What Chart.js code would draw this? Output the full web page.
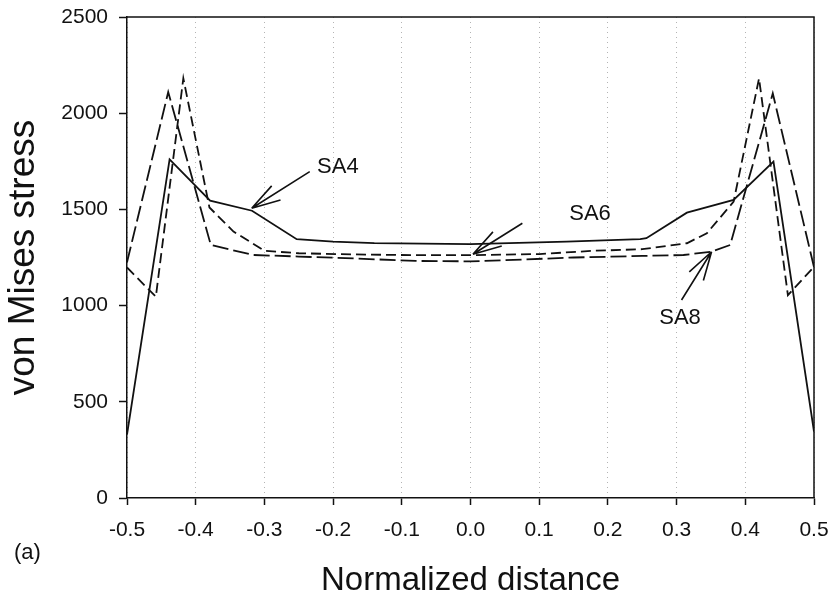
<!DOCTYPE html>
<html>
<head>
<meta charset="utf-8">
<script src="https://cdn.jsdelivr.net/npm/chart.js@4.4.1/dist/chart.umd.min.js"></script>
<style>
  html, body { margin: 0; padding: 0; background: #fff; }
  #wrap { width: 831px; height: 597px; position: relative; }
</style>
</head>
<body>
<div id="wrap"><canvas id="myChart"></canvas></div>
<script>
// Normalized distance (x) and von Mises stress (y) for each case
var sa4X = [-0.5, -0.438, -0.379, -0.318, -0.253, -0.2, -0.14, 0.0, 0.14, 0.247, 0.256, 0.315, 0.383, 0.441, 0.5];
var sa4Y = [330, 1760, 1545, 1493, 1345, 1333, 1325, 1320, 1332, 1345, 1350, 1483, 1549, 1748, 345];

var sa6X = [-0.5, -0.458, -0.418, -0.38, -0.345, -0.3, -0.25, -0.17, -0.08, 0.0, 0.1, 0.18, 0.25, 0.315, 0.344, 0.383, 0.42, 0.462, 0.5];
var sa6Y = [1198, 1046, 2181, 1510, 1385, 1285, 1272, 1266, 1262, 1262, 1268, 1285, 1293, 1324, 1376, 1540, 2181, 1054, 1202];

var sa8X = [-0.5, -0.44, -0.378, -0.316, -0.25, -0.17, -0.08, 0.0, 0.08, 0.15, 0.25, 0.31, 0.35, 0.378, 0.44, 0.5];
var sa8Y = [1225, 2110, 1315, 1263, 1255, 1245, 1232, 1230, 1240, 1250, 1258, 1263, 1280, 1315, 2103, 1200];

var xTicks = [-0.5, -0.4, -0.3, -0.2, -0.1, 0.0, 0.1, 0.2, 0.3, 0.4, 0.5];
var yTicks = [0, 500, 1000, 1500, 2000, 2500];

// arrow labels (data units): text centre, arrow tail, arrow tip
var notes = [
  { text: 'SA4', tx: -0.193, ty: 1720, fx: -0.234, fy: 1696, px: -0.3185, py: 1506 },
  { text: 'SA6', tx: 0.174, ty: 1476, fx: 0.0755, fy: 1428, px: 0.0035, py: 1267 },
  { text: 'SA8', tx: 0.305, ty: 936, fx: 0.3072, fy: 1029, px: 0.3509, py: 1280 }
];

var FONT = "'Liberation Sans', Arial, sans-serif";
var INK = '#111';

function pairs(xs, ys) {
  return xs.map(function (x, i) { return { x: x, y: ys[i] }; });
}

var annotate = {
  id: 'annotate',
  afterDraw: function (chart) {
    var ctx = chart.ctx, a = chart.chartArea;
    var sx = chart.scales.x, sy = chart.scales.y;
    ctx.save();
    // top and right frame
    ctx.strokeStyle = INK;
    ctx.lineWidth = 1.5;
    ctx.beginPath();
    ctx.moveTo(a.left, a.top);
    ctx.lineTo(a.right, a.top);
    ctx.lineTo(a.right, a.bottom);
    ctx.stroke();

    ctx.fillStyle = INK;
    ctx.font = '22px ' + FONT;
    ctx.textAlign = 'center';
    ctx.textBaseline = 'middle';
    notes.forEach(function (n) {
      var x0 = sx.getPixelForValue(n.fx), y0 = sy.getPixelForValue(n.fy);
      var x1 = sx.getPixelForValue(n.px), y1 = sy.getPixelForValue(n.py);
      ctx.lineWidth = 1.6;
      ctx.beginPath();
      ctx.moveTo(x0, y0);
      ctx.lineTo(x1, y1);
      var ang = Math.atan2(y0 - y1, x0 - x1);
      [-0.28, 0.28].forEach(function (d) {
        ctx.moveTo(x1, y1);
        ctx.lineTo(x1 + 30 * Math.cos(ang + d), y1 + 30 * Math.sin(ang + d));
      });
      ctx.stroke();
      ctx.fillText(n.text, sx.getPixelForValue(n.tx), sy.getPixelForValue(n.ty));
    });

    ctx.textAlign = 'left';
    ctx.font = '22px ' + FONT;
    ctx.fillText('(a)', 14, 553);
    ctx.restore();
  }
};

var ctx = document.getElementById('myChart');
var myChart = new Chart(ctx, {
  type: 'line',
  data: {
    datasets: [
      {
        label: 'SA4',
        data: pairs(sa4X, sa4Y),
        borderColor: INK,
        borderWidth: 1.8,
        pointRadius: 0,
        fill: false
      },
      {
        label: 'SA6',
        data: pairs(sa6X, sa6Y),
        borderColor: INK,
        borderWidth: 1.8,
        borderDash: [10, 5],
        pointRadius: 0,
        fill: false
      },
      {
        label: 'SA8',
        data: pairs(sa8X, sa8Y),
        borderColor: INK,
        borderWidth: 1.8,
        borderDash: [16, 5],
        pointRadius: 0,
        fill: false
      }
    ]
  },
  options: {
    responsive: true,
    maintainAspectRatio: false,
    animation: false,
    events: [],
    layout: { padding: { top: 17, right: 17, left: 0, bottom: 0 } },
    plugins: { legend: { display: false }, tooltip: { enabled: false } },
    scales: {
      x: {
        type: 'linear',
        min: -0.5,
        max: 0.5,
        afterBuildTicks: function (axis) {
          axis.ticks = xTicks.map(function (v) { return { value: v }; });
        },
        afterFit: function (scale) {
          scale.height = 99;
          scale.paddingLeft = 0;
          scale.paddingRight = 0;
        },
        grid: {
          color: '#b4b4b4',
          lineWidth: 1,
          tickColor: INK,
          tickLength: 7,
          tickWidth: 1.5
        },
        border: { color: INK, width: 1.5, dash: [1, 4] },
        ticks: {
          color: INK,
          padding: 13,
          maxRotation: 0,
          font: { family: FONT, size: 21 },
          callback: function (v) { return Math.abs(v) < 1e-9 ? '0.0' : Number(v).toFixed(1); }
        },
        title: {
          display: true,
          text: 'Normalized distance',
          color: INK,
          font: { family: FONT, size: 33, lineHeight: 1 },
          padding: { top: 0, bottom: 0 }
        }
      },
      y: {
        min: 0,
        max: 2500,
        afterBuildTicks: function (axis) {
          axis.ticks = yTicks.map(function (v) { return { value: v }; });
        },
        afterFit: function (scale) {
          scale.width = 127;
          scale.paddingTop = 0;
          scale.paddingBottom = 0;
        },
        grid: {
          drawOnChartArea: false,
          tickColor: INK,
          tickLength: 8,
          tickWidth: 1.5
        },
        border: { color: INK, width: 1.5 },
        ticks: {
          color: INK,
          padding: 11,
          font: { family: FONT, size: 21 },
          callback: function (v) { return String(v); }
        },
        title: {
          display: true,
          text: 'von Mises stress',
          color: INK,
          font: { family: FONT, size: 37, lineHeight: 1.05 },
          padding: { top: 4, bottom: 0 }
        }
      }
    }
  },
  plugins: [annotate]
});
</script>
</body>
</html>
